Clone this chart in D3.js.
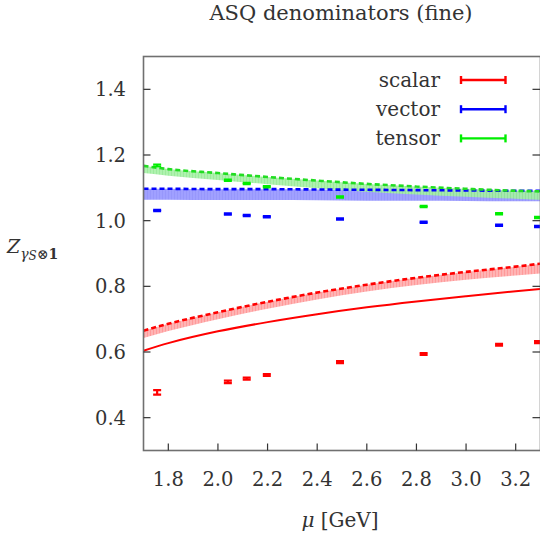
<!DOCTYPE html>
<html><head><meta charset="utf-8">
<script src="https://cdn.jsdelivr.net/npm/d3@7"></script>
<style>
body{margin:0;background:#fff;}
svg{display:block;}
</style></head>
<body><svg id="c" width="540" height="544"></svg>
<script>
// ---- data ----
const xTicks = [1.8, 2.0, 2.2, 2.4, 2.6, 2.8, 3.0, 3.2];
const yTicks = [0.4, 0.6, 0.8, 1.0, 1.2, 1.4];
const seriesNames = ["scalar", "vector", "tensor"];
const seriesColors = ["#ff0000", "#0000ff", "#00ee00"];

const muPts = [1.755, 2.04, 2.116, 2.197, 2.492, 2.829, 3.133, 3.29];
const scalarVals = [0.477, 0.509, 0.519, 0.530, 0.569, 0.594, 0.622, 0.630];
const scalarErr  = [0.007, 0.004, 0.003, 0.003, 0.003, 0.003, 0.003, 0.003];
const vectorVals = [1.031, 1.020, 1.016, 1.012, 1.005, 0.995, 0.986, 0.982];
const vectorErr  = [0.002, 0.002, 0.002, 0.002, 0.002, 0.002, 0.002, 0.002];
const tensorVals = [1.168, 1.123, 1.113, 1.103, 1.072, 1.043, 1.021, 1.010];
const tensorErr  = [0.003, 0.002, 0.002, 0.002, 0.002, 0.002, 0.002, 0.002];

const muCurve = [1.7, 1.8, 2.0, 2.2, 2.4, 2.6, 2.8, 3.0, 3.2, 3.3];
const scalarBandHi = [0.665, 0.686, 0.721, 0.753, 0.781, 0.805, 0.826, 0.844, 0.860, 0.869];
const scalarBandLo = [0.643, 0.664, 0.700, 0.732, 0.760, 0.784, 0.804, 0.820, 0.833, 0.839];
const scalarSolid  = [0.604, 0.627, 0.663, 0.691, 0.715, 0.736, 0.754, 0.770, 0.785, 0.792];
const vectorBandHi = [1.097, 1.097, 1.096, 1.096, 1.095, 1.094, 1.093, 1.092, 1.091, 1.091];
const vectorBandLo = [1.064, 1.064, 1.063, 1.063, 1.062, 1.061, 1.061, 1.060, 1.059, 1.059];
const tensorBandHi = [1.167, 1.157, 1.145, 1.133, 1.122, 1.112, 1.104, 1.097, 1.091, 1.089];
const tensorBandLo = [1.145, 1.137, 1.124, 1.111, 1.099, 1.088, 1.080, 1.073, 1.067, 1.064];

// ---- layout ----
const FONT = "'DejaVu Serif', 'Liberation Serif', serif";
const svg = d3.select("#c");
const L = 143.5, R = 540.5, T = 56.5, B = 450.5;
const x = d3.scaleLinear().domain([1.7, 3.3]).range([L, R]);
const y = d3.scaleLinear().domain([0.3, 1.5]).range([B, T]);

const defs = svg.append("defs");
defs.append("clipPath").attr("id","plotclip").append("rect")
  .attr("x", L).attr("y", T).attr("width", R-L).attr("height", B-T);
function hatch(id, base, line){
  const p = defs.append("pattern").attr("id", id).attr("patternUnits","userSpaceOnUse")
    .attr("width", 3).attr("height", 10);
  p.append("rect").attr("width",3).attr("height",10).attr("fill", base);
  p.append("rect").attr("x",0).attr("width",1).attr("height",10).attr("fill", line);
}
hatch("hr", "#ffb4b4", "#ff9a9a");
hatch("hb", "#a0a0ff", "#9797fb");
hatch("hg", "#a6f0a6", "#92e892");

const g = svg.append("g").attr("clip-path","url(#plotclip)");

const area = (lo, hi) => d3.area().curve(d3.curveMonotoneX)
  .x((d,i)=>x(muCurve[i])).y0((d,i)=>y(lo[i])).y1((d,i)=>y(hi[i]));
const line = arr => d3.line().curve(d3.curveMonotoneX)
  .x((d,i)=>x(muCurve[i])).y((d,i)=>y(arr[i]));

// bands
g.append("path").datum(muCurve).attr("d", area(vectorBandLo, vectorBandHi)).attr("fill","url(#hb)");
g.append("path").datum(muCurve).attr("d", area(tensorBandLo, tensorBandHi)).attr("fill","url(#hg)").attr("opacity",0.9);
g.append("path").datum(muCurve).attr("d", area(scalarBandLo, scalarBandHi)).attr("fill","url(#hr)");

// dashed lines
[[vectorBandHi,"#0000ff"],[tensorBandHi,"#22dd22"],[scalarBandHi,"#ff0000"]].forEach(([arr,c])=>{
  g.append("path").datum(muCurve).attr("d", line(arr)).attr("fill","none")
    .attr("stroke", c).attr("stroke-width", 2.6).attr("stroke-dasharray","5,3");
});
// solid scalar line
g.append("path").datum(muCurve).attr("d", line(scalarSolid)).attr("fill","none")
  .attr("stroke","#ff0000").attr("stroke-width",2);

// error-bar points
function errPoints(vals, errs, color){
  const grp = g.append("g").attr("stroke", color).attr("stroke-width", 2.2);
  muPts.forEach((m,i)=>{
    const cx = x(m), y1 = y(vals[i]+errs[i]), y2 = y(vals[i]-errs[i]);
    grp.append("line").attr("x1",cx).attr("x2",cx).attr("y1",y1).attr("y2",y2);
    grp.append("line").attr("x1",cx-4).attr("x2",cx+4).attr("y1",y1).attr("y2",y1);
    grp.append("line").attr("x1",cx-4).attr("x2",cx+4).attr("y1",y2).attr("y2",y2);
  });
}
errPoints(tensorVals, tensorErr, "#00ee00");
errPoints(vectorVals, vectorErr, "#0000ff");
errPoints(scalarVals, scalarErr, "#ff0000");

// frame
svg.append("rect").attr("x",L).attr("y",T).attr("width",R-L).attr("height",B-T)
  .attr("fill","none").attr("stroke","#707070").attr("stroke-width",1.6);

// ticks
const tk = svg.append("g").attr("stroke","#333").attr("stroke-width",1.2);
yTicks.forEach(v=>{
  tk.append("line").attr("x1",L).attr("x2",L+7).attr("y1",y(v)).attr("y2",y(v));
  tk.append("line").attr("x1",R-8).attr("x2",R).attr("y1",y(v)).attr("y2",y(v));
});
xTicks.forEach(v=>{
  tk.append("line").attr("x1",x(v)).attr("x2",x(v)).attr("y1",B).attr("y2",B-7);
});

function txt(sel){ return sel.attr("font-family", FONT).attr("fill", "#333"); }

// tick labels
txt(svg.append("g")).selectAll("text").data(yTicks).join("text")
  .attr("x",126).attr("y",d=>y(d)+7).attr("text-anchor","end")
  .attr("font-size",19.5).text(d=>d.toFixed(1));
txt(svg.append("g")).selectAll("text").data(xTicks).join("text")
  .attr("x",d=>x(d)).attr("y",486).attr("text-anchor","middle")
  .attr("font-size",19.5).text(d=>d.toFixed(1));

// title
txt(svg.append("text")).attr("x",341).attr("y",20).attr("text-anchor","middle")
  .attr("font-size",21).text("ASQ denominators (fine)");

// x label
const xl = txt(svg.append("text")).attr("x",340).attr("y",527).attr("text-anchor","middle")
  .attr("font-size",20);
xl.append("tspan").attr("font-style","italic").text("μ");
xl.append("tspan").text(" [GeV]");

// y label
const yl = txt(svg.append("text")).attr("x",7).attr("y",253);
yl.append("tspan").attr("font-style","italic").attr("font-size",19).text("Z");
yl.append("tspan").attr("dy",6).attr("font-style","italic").attr("font-size",14).text("γ");
yl.append("tspan").attr("dy",1).attr("font-style","italic").attr("font-size",12).text("S");
yl.append("tspan").attr("dy",-1).attr("font-size",14).text("⊗");
yl.append("tspan").attr("font-size",14).attr("font-weight","bold").text("1");

// legend
const leg = svg.append("g");
seriesNames.forEach((n,i)=>{
  const ly = 80 + i*29.2;
  txt(leg.append("text")).attr("x",440).attr("y",ly+7).attr("text-anchor","end")
    .attr("font-size",20).text(n);
  const lg = leg.append("g").attr("stroke", seriesColors[i]).attr("stroke-width",2.4);
  lg.append("line").attr("x1",461).attr("x2",505.5).attr("y1",ly).attr("y2",ly);
  lg.append("line").attr("x1",461).attr("x2",461).attr("y1",ly-4).attr("y2",ly+4);
  lg.append("line").attr("x1",505.5).attr("x2",505.5).attr("y1",ly-4).attr("y2",ly+4);
});
</script></body></html>
